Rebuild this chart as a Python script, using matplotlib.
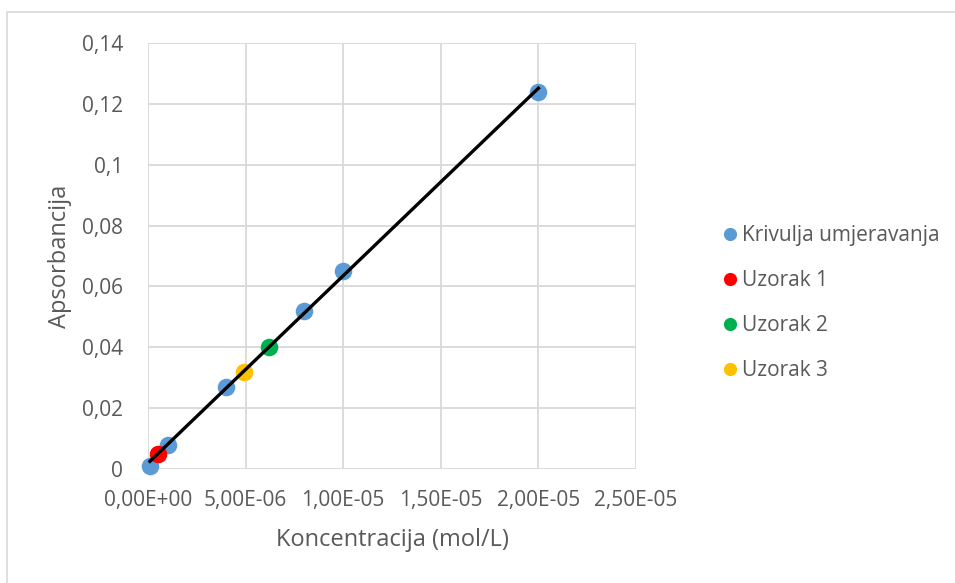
import numpy as np
import matplotlib
matplotlib.use("Agg")
import matplotlib.pyplot as plt
from matplotlib.patches import Rectangle
from matplotlib.lines import Line2D

# data
cal_x = [1e-7, 1e-6, 4e-6, 8e-6, 1e-5, 2e-5]
cal_y = [0.001, 0.008, 0.027, 0.052, 0.065, 0.124]
s1_x, s1_y = [5e-7], [0.005]
s2_x, s2_y = [6.2e-6], [0.040]
s3_x, s3_y = [4.9e-6], [0.032]
x_ticks = [0, 5e-6, 1e-5, 1.5e-5, 2e-5, 2.5e-5]
x_labels = ["0,00E+00", "5,00E-06", "1,00E-05", "1,50E-05", "2,00E-05", "2,50E-05"]
y_ticks = [0, 0.02, 0.04, 0.06, 0.08, 0.10, 0.12, 0.14]
y_labels = ["0", "0,02", "0,04", "0,06", "0,08", "0,1", "0,12", "0,14"]
names = ["Krivulja umjeravanja", "Uzorak 1", "Uzorak 2", "Uzorak 3"]
colors = ["#5b9bd5", "#ff0000", "#00b050", "#ffc000"]

plt.rcParams['font.family'] = ['Open Sans', 'DejaVu Sans']
txt = "#595959"

fig = plt.figure(figsize=(9.55, 5.83), dpi=100)
fig.patches.append(Rectangle((7/955, -0.1), 1.2, (583-12)/583 + 0.1,
                             transform=fig.transFigure, fill=False,
                             edgecolor="#d9d9d9", linewidth=1.2))
ax = fig.add_axes([148/955, 1-469/583, (636-148)/955, (469-43)/583])
ax.set_xlim(0, 2.5e-5)
ax.set_ylim(0, 0.14)
ax.set_xticks(x_ticks)
ax.set_xticklabels(x_labels)
ax.set_yticks(y_ticks)
ax.set_yticklabels(y_labels)
ax.grid(True, color="#d9d9d9", linewidth=1.3)
ax.set_axisbelow(True)
for sp in ax.spines.values():
    sp.set_visible(False)
ax.tick_params(length=0, labelsize=15, colors=txt)
ax.tick_params(axis='y', pad=18)
ax.tick_params(axis='x', pad=15)

ms = 160
kw = dict(s=ms, zorder=3, linewidths=0, clip_on=False)
ax.scatter(cal_x, cal_y, color=colors[0], **kw)
coef = np.polyfit(cal_x, cal_y, 1)
lx = np.array([min(cal_x), max(cal_x)])
ax.plot(lx, np.polyval(coef, lx), color="black", linewidth=2.4, zorder=4)
ax.scatter(s1_x, s1_y, color=colors[1], **kw)
ax.scatter(s2_x, s2_y, color=colors[2], **kw)
ax.scatter(s3_x, s3_y, color=colors[3], **kw)

ax.set_xlabel("Koncentracija (mol/L)", fontsize=17, color=txt, labelpad=12)
ax.set_ylabel("Apsorbancija", fontsize=17, color=txt, labelpad=7)

handles = [Line2D([], [], marker='o', linestyle='', markersize=9.5,
                  markerfacecolor=c, markeredgewidth=0) for c in colors]
fig.legend(handles, names, loc="upper left", bbox_to_anchor=(711/955, 1-217/583),
           frameon=False, fontsize=15, labelcolor=txt, handletextpad=0.05,
           handlelength=1.05, labelspacing=1.15, borderaxespad=0)

fig.savefig("out.png", dpi=100)
